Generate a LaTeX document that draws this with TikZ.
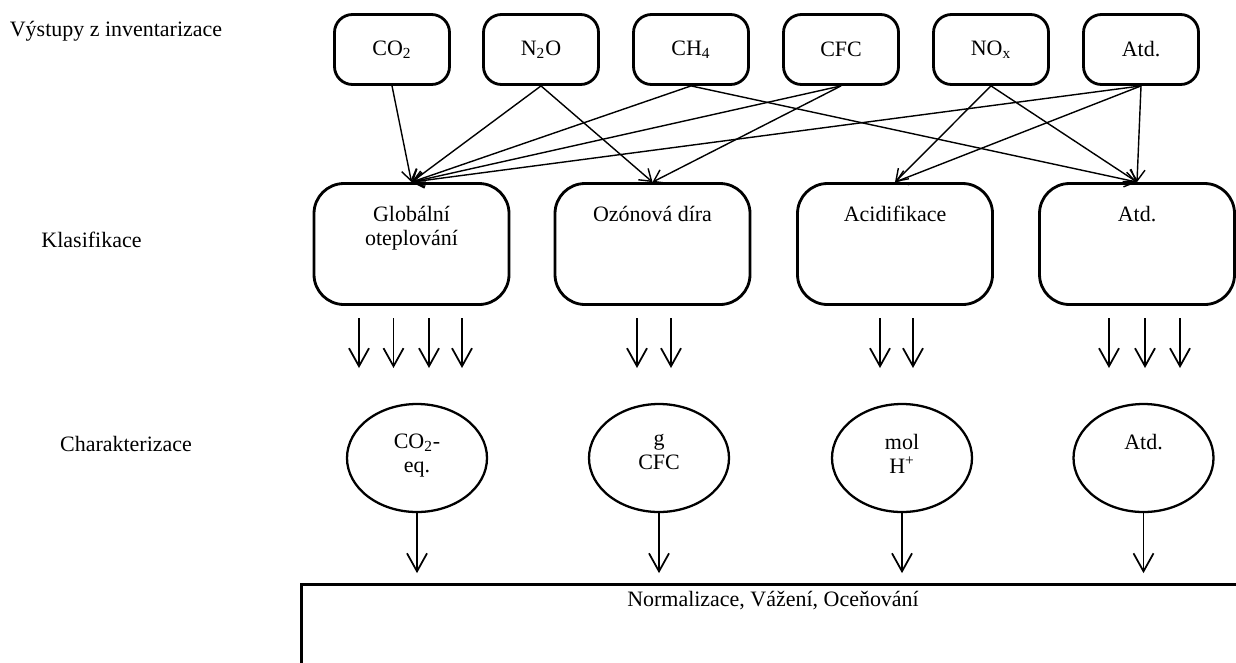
\documentclass[tikz,border=0pt]{standalone}
\usepackage{fontspec}
\setmainfont{Liberation Serif}
\usetikzlibrary{positioning,shapes,arrows,arrows.meta}

\begin{document}
\begin{tikzpicture}[every node/.style={font=\fontsize{12.5}{13.5}\selectfont},
		output/.style={draw,rounded corners=0.36cm,line width=1.6pt,minimum width=2.3cm,minimum height=1.4cm,inner sep=0},
		category/.style={draw,rounded corners=0.6cm,line width=1.6pt,minimum width=3.9cm,minimum height=2.42cm,inner sep=0},
		indicator/.style={draw,ellipse,line width=1.3pt,minimum width=2.8cm,minimum height=2.16cm,inner sep=0},
		caption/.style={align=center,inner sep=0},
		link/.style={line width=0.8pt,-{Straight Barb[length=2.2mm,width=3mm]}},
		flow/.style={line width=1pt,-{Straight Barb[length=3.6mm,width=4mm]}}]
			\useasboundingbox (0,0) rectangle (24.72,-13.24);

			% row titles
			\node (rowInv) at (2.32,-0.62) {Výstupy z inventarizace};
			\node (rowKlas) at (1.83,-4.80) {Klasifikace};
			\node (rowChar) at (2.52,-8.87) {Charakterizace};

			% inventory outputs
			\node[output] (co2) at (7.84,-0.99) {CO\textsubscript{2}};
			\node[output] (n2o) at (10.82,-0.99) {N\textsubscript{2}O};
			\node[output] (ch4) at (13.82,-0.99) {CH\textsubscript{4}};
			\node[output] (cfc) at (16.82,-0.99) {CFC};
			\node[output] (nox) at (19.82,-0.99) {NO\textsubscript{x}};
			\node[output] (etc) at (22.82,-0.99) {Atd.};

			% impact categories
			\node[category] (glob) at (8.23,-4.88) {};
			\node[category] (ozon) at (13.05,-4.88) {};
			\node[category] (acid) at (17.90,-4.88) {};
			\node[category] (etcK) at (22.74,-4.88) {};
			\node[caption,below=0.48cm of glob.north] (globT) {Globální\\oteplování};
			\node[caption,below=0.48cm of ozon.north] (ozonT) {Ozónová díra};
			\node[caption,below=0.48cm of acid.north] (acidT) {Acidifikace};
			\node[caption,below=0.48cm of etcK.north] (etcKT) {Atd.};

			% indicators
			\node[indicator] (co2eq) at (8.34,-9.16) {};
			\node[indicator] (gcfc) at (13.18,-9.16) {};
			\node[indicator] (molh) at (18.04,-9.16) {};
			\node[indicator] (etcC) at (22.87,-9.16) {};
			\node[caption,below=0.62cm of co2eq.north] (co2eqT) {CO\textsubscript{2}-\\eq.};
			\node[caption,below=0.62cm of gcfc.north] (gcfcT) {g\\CFC};
			\node[caption,below=0.62cm of molh.north] (molhT) {mol\\H\textsuperscript{+}};
			\node[caption,below=0.62cm of etcC.north] (etcCT) {Atd.};

			% normalisation
			\node[draw,line width=1.6pt,anchor=north west,minimum width=19.2cm,minimum height=2.4cm,inner sep=0] (norm) at (6.0,-11.66) {};
			\node (normT) at (15.46,-12.02) {Normalizace, Vážení, Oceňování};

			\path[link] (co2.south) edge (glob.north)
						 (n2o.south) edge (glob.north)
						 (n2o.south) edge (ozon.north)
						 (ch4.south) edge (glob.north)
						 (ch4.south) edge (etcK.north)
						 (cfc.south) edge (glob.north)
						 (cfc.south) edge (ozon.north)
						 (nox.south) edge (acid.north)
						 (nox.south) edge (etcK.north)
						 (etc.south) edge (glob.north)
						 (etc.south) edge (acid.north)
						 (etc.south) edge (etcK.north);

			\foreach \x [count=\n] in {7.18,7.87,8.58,9.24,12.74,13.42,17.60,18.26,22.18,22.90,23.60} {
				\coordinate (k\n) at (\x,-6.36);
				\coordinate (c\n) at (\x,-7.36);
				\draw[flow] (k\n) -- (c\n);
			}
			\foreach \e in {co2eq,gcfc,molh,etcC} {
				\coordinate (\e-end) at ([yshift=-1.2cm]\e.south);
				\draw[flow] (\e.south) -- (\e-end);
			}
		\end{tikzpicture}
\end{document}
